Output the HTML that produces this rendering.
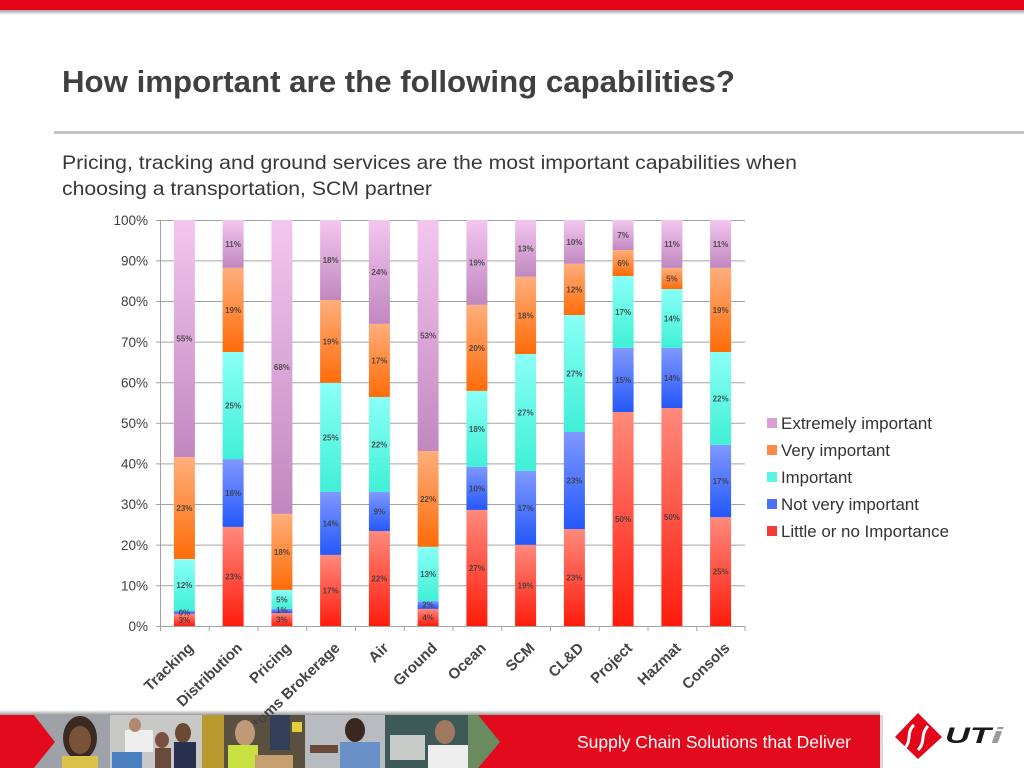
<!DOCTYPE html>
<html>
<head>
<meta charset="utf-8">
<style>
html,body{margin:0;padding:0;background:#fff;}
body{width:1024px;height:768px;overflow:hidden;}
svg{display:block;}
</style>
</head>
<body>
<svg width="1024" height="768" viewBox="0 0 1024 768" xmlns="http://www.w3.org/2000/svg" font-family="Liberation Sans, Arial, sans-serif">
<defs>
  <linearGradient id="gP" x1="0" y1="0" x2="0" y2="1"><stop offset="0" stop-color="#f3c6ef"/><stop offset="1" stop-color="#c188c0"/></linearGradient>
  <linearGradient id="gO" x1="0" y1="0" x2="0" y2="1"><stop offset="0" stop-color="#ffae7c"/><stop offset="1" stop-color="#ff6c08"/></linearGradient>
  <linearGradient id="gC" x1="0" y1="0" x2="0" y2="1"><stop offset="0" stop-color="#8afff8"/><stop offset="1" stop-color="#40f0d6"/></linearGradient>
  <linearGradient id="gB" x1="0" y1="0" x2="0" y2="1"><stop offset="0" stop-color="#8098ff"/><stop offset="1" stop-color="#2458fa"/></linearGradient>
  <linearGradient id="gR" x1="0" y1="0" x2="0" y2="1"><stop offset="0" stop-color="#ff8a7c"/><stop offset="1" stop-color="#ff1c0c"/></linearGradient>
  <linearGradient id="topShadow" x1="0" y1="0" x2="0" y2="1"><stop offset="0" stop-color="#a0a0a0"/><stop offset="1" stop-color="#ffffff"/></linearGradient>
  <linearGradient id="footShadow" x1="0" y1="0" x2="0" y2="1"><stop offset="0" stop-color="#ffffff"/><stop offset="1" stop-color="#9a9a9a"/></linearGradient>
  <clipPath id="labelClip"><rect x="0" y="0" width="1024" height="724"/></clipPath>
  <clipPath id="photoClip"><polygon points="34,715 478,715 500,742 478,768 34,768 55,742"/></clipPath>
</defs>

<!-- top red bar -->
<rect x="0" y="0" width="1024" height="10" fill="#e3061b"/>
<rect x="0" y="10" width="1024" height="5" fill="url(#topShadow)"/>

<!-- title -->
<text x="62" y="92" font-size="31" font-weight="bold" fill="#404040" textLength="673" lengthAdjust="spacingAndGlyphs">How important are the following capabilities?</text>
<rect x="54" y="131" width="970" height="3" fill="#c4c4c4"/>

<!-- subtitle -->
<text x="62" y="169" font-size="19.5" fill="#383838" textLength="735" lengthAdjust="spacingAndGlyphs">Pricing, tracking and ground services are the most important capabilities when</text>
<text x="62" y="195" font-size="19.5" fill="#383838" textLength="370" lengthAdjust="spacingAndGlyphs">choosing a transportation, SCM partner</text>

<!-- gridlines -->
<g stroke="#a3a3a3" stroke-width="1">
  <line x1="156" y1="220.5" x2="745" y2="220.5"/>
  <line x1="156" y1="260.9" x2="745" y2="260.9"/>
  <line x1="156" y1="301.5" x2="745" y2="301.5"/>
  <line x1="156" y1="342.1" x2="745" y2="342.1"/>
  <line x1="156" y1="382.7" x2="745" y2="382.7"/>
  <line x1="156" y1="423.3" x2="745" y2="423.3"/>
  <line x1="156" y1="463.9" x2="745" y2="463.9"/>
  <line x1="156" y1="504.5" x2="745" y2="504.5"/>
  <line x1="156" y1="545.1" x2="745" y2="545.1"/>
  <line x1="156" y1="585.7" x2="745" y2="585.7"/>
  <line x1="156" y1="626.5" x2="745" y2="626.5"/>
  <line x1="160.5" y1="220" x2="160.5" y2="627"/>
</g>
<g stroke="#a3a3a3" stroke-width="1">
  <line x1="160.5" y1="626" x2="160.5" y2="631"/>
  <line x1="209.25" y1="626" x2="209.25" y2="631"/>
  <line x1="258" y1="626" x2="258" y2="631"/>
  <line x1="306.75" y1="626" x2="306.75" y2="631"/>
  <line x1="355.5" y1="626" x2="355.5" y2="631"/>
  <line x1="404.25" y1="626" x2="404.25" y2="631"/>
  <line x1="453" y1="626" x2="453" y2="631"/>
  <line x1="501.75" y1="626" x2="501.75" y2="631"/>
  <line x1="550.5" y1="626" x2="550.5" y2="631"/>
  <line x1="599.25" y1="626" x2="599.25" y2="631"/>
  <line x1="648" y1="626" x2="648" y2="631"/>
  <line x1="696.75" y1="626" x2="696.75" y2="631"/>
  <line x1="745" y1="626" x2="745" y2="631"/>
</g>

<!-- y labels -->
<g font-size="13.5" fill="#404040" text-anchor="end">
  <text x="148" y="225">100%</text>
  <text x="148" y="265.6">90%</text>
  <text x="148" y="306.2">80%</text>
  <text x="148" y="346.8">70%</text>
  <text x="148" y="387.4">60%</text>
  <text x="148" y="428">50%</text>
  <text x="148" y="468.6">40%</text>
  <text x="148" y="509.2">30%</text>
  <text x="148" y="549.8">20%</text>
  <text x="148" y="590.4">10%</text>
  <text x="148" y="631">0%</text>
</g>

<!-- bars -->
<g>
  <!-- Tracking -->
  <rect x="173.9" y="613.8" width="21" height="12.2" fill="url(#gR)"/>
  <rect x="173.9" y="611.0" width="21" height="2.8" fill="url(#gB)"/>
  <rect x="173.9" y="559.0" width="21" height="52.0" fill="url(#gC)"/>
  <rect x="173.9" y="457.1" width="21" height="101.9" fill="url(#gO)"/>
  <rect x="173.9" y="220" width="21" height="237.1" fill="url(#gP)"/>
  <!-- Distribution -->
  <rect x="222.6" y="526.9" width="21" height="99.1" fill="url(#gR)"/>
  <rect x="222.6" y="459.1" width="21" height="67.8" fill="url(#gB)"/>
  <rect x="222.6" y="352.0" width="21" height="107.1" fill="url(#gC)"/>
  <rect x="222.6" y="267.9" width="21" height="84.1" fill="url(#gO)"/>
  <rect x="222.6" y="220" width="21" height="47.9" fill="url(#gP)"/>
  <!-- Pricing -->
  <rect x="271.4" y="613.0" width="21" height="13.0" fill="url(#gR)"/>
  <rect x="271.4" y="608.9" width="21" height="4.1" fill="url(#gB)"/>
  <rect x="271.4" y="589.9" width="21" height="19.0" fill="url(#gC)"/>
  <rect x="271.4" y="513.9" width="21" height="76.0" fill="url(#gO)"/>
  <rect x="271.4" y="220" width="21" height="293.9" fill="url(#gP)"/>
  <!-- Customs -->
  <rect x="320.1" y="554.9" width="21" height="71.1" fill="url(#gR)"/>
  <rect x="320.1" y="492.0" width="21" height="62.9" fill="url(#gB)"/>
  <rect x="320.1" y="382.8" width="21" height="109.2" fill="url(#gC)"/>
  <rect x="320.1" y="300.0" width="21" height="82.8" fill="url(#gO)"/>
  <rect x="320.1" y="220" width="21" height="80" fill="url(#gP)"/>
  <!-- Air -->
  <rect x="368.9" y="531.0" width="21" height="95" fill="url(#gR)"/>
  <rect x="368.9" y="492.0" width="21" height="39" fill="url(#gB)"/>
  <rect x="368.9" y="397.0" width="21" height="95" fill="url(#gC)"/>
  <rect x="368.9" y="323.9" width="21" height="73.1" fill="url(#gO)"/>
  <rect x="368.9" y="220" width="21" height="103.9" fill="url(#gP)"/>
  <!-- Ground -->
  <rect x="417.6" y="608.9" width="21" height="17.1" fill="url(#gR)"/>
  <rect x="417.6" y="601.2" width="21" height="7.7" fill="url(#gB)"/>
  <rect x="417.6" y="546.8" width="21" height="54.4" fill="url(#gC)"/>
  <rect x="417.6" y="451.0" width="21" height="95.8" fill="url(#gO)"/>
  <rect x="417.6" y="220" width="21" height="231" fill="url(#gP)"/>
  <!-- Ocean -->
  <rect x="466.4" y="509.9" width="21" height="116.1" fill="url(#gR)"/>
  <rect x="466.4" y="466.8" width="21" height="43.1" fill="url(#gB)"/>
  <rect x="466.4" y="390.9" width="21" height="75.9" fill="url(#gC)"/>
  <rect x="466.4" y="304.9" width="21" height="86" fill="url(#gO)"/>
  <rect x="466.4" y="220" width="21" height="84.9" fill="url(#gP)"/>
  <!-- SCM -->
  <rect x="515.1" y="544.8" width="21" height="81.2" fill="url(#gR)"/>
  <rect x="515.1" y="470.9" width="21" height="73.9" fill="url(#gB)"/>
  <rect x="515.1" y="354.0" width="21" height="116.9" fill="url(#gC)"/>
  <rect x="515.1" y="276.8" width="21" height="77.2" fill="url(#gO)"/>
  <rect x="515.1" y="220" width="21" height="56.8" fill="url(#gP)"/>
  <!-- CL&D -->
  <rect x="563.9" y="529.0" width="21" height="97" fill="url(#gR)"/>
  <rect x="563.9" y="432.0" width="21" height="97" fill="url(#gB)"/>
  <rect x="563.9" y="315.0" width="21" height="117" fill="url(#gC)"/>
  <rect x="563.9" y="263.8" width="21" height="51.2" fill="url(#gO)"/>
  <rect x="563.9" y="220" width="21" height="43.8" fill="url(#gP)"/>
  <!-- Project -->
  <rect x="612.6" y="412.0" width="21" height="214" fill="url(#gR)"/>
  <rect x="612.6" y="347.9" width="21" height="64.1" fill="url(#gB)"/>
  <rect x="612.6" y="276.0" width="21" height="71.9" fill="url(#gC)"/>
  <rect x="612.6" y="250.0" width="21" height="26" fill="url(#gO)"/>
  <rect x="612.6" y="220" width="21" height="30" fill="url(#gP)"/>
  <!-- Hazmat -->
  <rect x="661.4" y="408.0" width="21" height="218" fill="url(#gR)"/>
  <rect x="661.4" y="347.9" width="21" height="60.1" fill="url(#gB)"/>
  <rect x="661.4" y="289.0" width="21" height="58.9" fill="url(#gC)"/>
  <rect x="661.4" y="267.9" width="21" height="21.1" fill="url(#gO)"/>
  <rect x="661.4" y="220" width="21" height="47.9" fill="url(#gP)"/>
  <!-- Consols -->
  <rect x="710.1" y="517.2" width="21" height="108.8" fill="url(#gR)"/>
  <rect x="710.1" y="444.9" width="21" height="72.3" fill="url(#gB)"/>
  <rect x="710.1" y="352.0" width="21" height="92.9" fill="url(#gC)"/>
  <rect x="710.1" y="267.9" width="21" height="84.1" fill="url(#gO)"/>
  <rect x="710.1" y="220" width="21" height="47.9" fill="url(#gP)"/>
</g>

<!-- bar labels -->
<g font-size="8" font-weight="bold" fill="#3a3a3a" text-anchor="middle" fill-opacity="0.85">
  <text x="184.4" y="622.9">3%</text><text x="184.4" y="615.4">0%</text><text x="184.4" y="588">12%</text><text x="184.4" y="511">23%</text><text x="184.4" y="341.6">55%</text>
  <text x="233.1" y="579.5">23%</text><text x="233.1" y="496">16%</text><text x="233.1" y="408.6">25%</text><text x="233.1" y="313">19%</text><text x="233.1" y="247">11%</text>
  <text x="281.9" y="622.5">3%</text><text x="281.9" y="613">1%</text><text x="281.9" y="602.4">5%</text><text x="281.9" y="554.9">18%</text><text x="281.9" y="370">68%</text>
  <text x="330.6" y="593.5">17%</text><text x="330.6" y="526.5">14%</text><text x="330.6" y="440.4">25%</text><text x="330.6" y="344.4">19%</text><text x="330.6" y="263">18%</text>
  <text x="379.4" y="581.5">22%</text><text x="379.4" y="514.5">9%</text><text x="379.4" y="447.5">22%</text><text x="379.4" y="363.5">17%</text><text x="379.4" y="275">24%</text>
  <text x="428.1" y="620.5">4%</text><text x="428.1" y="607.6">2%</text><text x="428.1" y="577">13%</text><text x="428.1" y="501.9">22%</text><text x="428.1" y="338.5">53%</text>
  <text x="476.9" y="571">27%</text><text x="476.9" y="491.4">10%</text><text x="476.9" y="431.9">18%</text><text x="476.9" y="350.9">20%</text><text x="476.9" y="265.5">19%</text>
  <text x="525.6" y="588.4">19%</text><text x="525.6" y="510.9">17%</text><text x="525.6" y="415.5">27%</text><text x="525.6" y="318.4">18%</text><text x="525.6" y="251.4">13%</text>
  <text x="574.4" y="580.5">23%</text><text x="574.4" y="483.5">23%</text><text x="574.4" y="376.5">27%</text><text x="574.4" y="292.4">12%</text><text x="574.4" y="244.9">10%</text>
  <text x="623.1" y="522">50%</text><text x="623.1" y="383">15%</text><text x="623.1" y="315">17%</text><text x="623.1" y="266">6%</text><text x="623.1" y="238">7%</text>
  <text x="671.9" y="520">50%</text><text x="671.9" y="381">14%</text><text x="671.9" y="321.5">14%</text><text x="671.9" y="281.5">5%</text><text x="671.9" y="247">11%</text>
  <text x="720.6" y="574.6">25%</text><text x="720.6" y="484.1">17%</text><text x="720.6" y="401.5">22%</text><text x="720.6" y="313">19%</text><text x="720.6" y="247">11%</text>
</g>

<!-- legend -->
<rect x="767" y="418" width="10" height="10" fill="#d9a0d6"/>
<rect x="767" y="445" width="10" height="10" fill="#fa8a44"/>
<rect x="767" y="472" width="10" height="10" fill="#5cf4e4"/>
<rect x="767" y="499" width="10" height="10" fill="#4672f4"/>
<rect x="767" y="526" width="10" height="10" fill="#f43c30"/>
<g font-size="17" fill="#333">
  <text x="781" y="429" textLength="151" lengthAdjust="spacingAndGlyphs">Extremely important</text>
  <text x="781" y="456" textLength="109" lengthAdjust="spacingAndGlyphs">Very important</text>
  <text x="781" y="483" textLength="71" lengthAdjust="spacingAndGlyphs">Important</text>
  <text x="781" y="510" textLength="138" lengthAdjust="spacingAndGlyphs">Not very important</text>
  <text x="781" y="537" textLength="168" lengthAdjust="spacingAndGlyphs">Little or no Importance</text>
</g>

<!-- footer -->
<rect x="0" y="710" width="880" height="5" fill="url(#footShadow)"/>
<rect x="0" y="715" width="880" height="53" fill="#e30a1e"/>
<rect x="880" y="715" width="3" height="53" fill="#d8d8d8"/>
<g clip-path="url(#photoClip)">
  <rect x="30" y="715" width="480" height="53" fill="#8a8a88"/>
  <!-- panel 1 woman -->
  <rect x="30" y="715" width="80" height="53" fill="#9ea2a8"/>
  <ellipse cx="80" cy="738" rx="17" ry="22" fill="#3a2a22"/>
  <ellipse cx="80" cy="740" rx="11" ry="14" fill="#7a5238"/>
  <rect x="62" y="756" width="36" height="12" fill="#d8c24a"/>
  <!-- panel 2 office -->
  <rect x="110" y="715" width="92" height="53" fill="#c8c8c6"/>
  <rect x="125" y="730" width="28" height="22" fill="#eeeeee"/>
  <ellipse cx="135" cy="725" rx="6" ry="7" fill="#b08a70"/>
  <rect x="112" y="752" width="30" height="16" fill="#4a80c0"/>
  <ellipse cx="162" cy="740" rx="7" ry="8" fill="#7a5040"/>
  <rect x="155" y="748" width="16" height="20" fill="#6a4a3a"/>
  <ellipse cx="183" cy="733" rx="8" ry="10" fill="#6a4a32"/>
  <rect x="174" y="742" width="22" height="26" fill="#2a3050"/>
  <!-- panel 3 warehouse -->
  <rect x="202" y="715" width="103" height="53" fill="#5a5040"/>
  <rect x="202" y="715" width="22" height="53" fill="#b89a30"/>
  <ellipse cx="245" cy="733" rx="10" ry="13" fill="#c09a78"/>
  <rect x="228" y="745" width="30" height="23" fill="#c8e040"/>
  <rect x="255" y="755" width="38" height="13" fill="#c8a070"/>
  <rect x="270" y="715" width="20" height="35" fill="#34405a"/>
  <rect x="292" y="722" width="10" height="10" fill="#e0d040"/>
  <!-- panel 4 man blue -->
  <rect x="305" y="715" width="80" height="53" fill="#b8bcc0"/>
  <ellipse cx="355" cy="730" rx="10" ry="12" fill="#3a2820"/>
  <rect x="340" y="742" width="40" height="26" fill="#6a90c8"/>
  <rect x="310" y="745" width="28" height="8" fill="#6a4a38"/>
  <!-- panel 5 lab -->
  <rect x="385" y="715" width="115" height="53" fill="#3e5a58"/>
  <rect x="390" y="735" width="35" height="25" fill="#c8ccc8"/>
  <ellipse cx="445" cy="732" rx="10" ry="12" fill="#a07860"/>
  <rect x="428" y="745" width="40" height="23" fill="#eeeeee"/>
  <rect x="468" y="715" width="32" height="53" fill="#6a8a60"/>
</g>
<text x="577" y="748" font-size="17.5" fill="#ffffff" textLength="274" lengthAdjust="spacingAndGlyphs">Supply Chain Solutions that Deliver</text>

<!-- logo -->
<polygon points="918,713 942,737 918,759 895,737" fill="#e3061b"/>
<path d="M905,748 C912,740 906,732 914,725 M918,750 C926,742 920,734 928,726" stroke="#ffffff" stroke-width="3" fill="none"/>
<text x="945" y="743" font-size="22" font-weight="bold" font-style="italic" fill="#1a1a1a" textLength="46" lengthAdjust="spacingAndGlyphs">UT</text>
<text x="991" y="743" font-size="22" font-weight="bold" font-style="italic" fill="#9a9a9a" textLength="12" lengthAdjust="spacingAndGlyphs">i</text>

<!-- x labels -->
<g font-size="15" font-weight="bold" fill="#444" text-anchor="end" clip-path="url(#labelClip)">
  <text transform="translate(194.4,649) rotate(-44)">Tracking</text>
  <text transform="translate(243.1,649) rotate(-44)">Distribution</text>
  <text transform="translate(291.9,649) rotate(-44)">Pricing</text>
  <text transform="translate(340.6,649) rotate(-44)">Customs Brokerage</text>
  <text transform="translate(389.4,649) rotate(-44)">Air</text>
  <text transform="translate(438.1,649) rotate(-44)">Ground</text>
  <text transform="translate(486.9,649) rotate(-44)">Ocean</text>
  <text transform="translate(535.6,649) rotate(-44)">SCM</text>
  <text transform="translate(584.4,649) rotate(-44)">CL&amp;D</text>
  <text transform="translate(633.1,649) rotate(-44)">Project</text>
  <text transform="translate(681.9,649) rotate(-44)">Hazmat</text>
  <text transform="translate(730.6,649) rotate(-44)">Consols</text>
</g>
</svg>
</body>
</html>
